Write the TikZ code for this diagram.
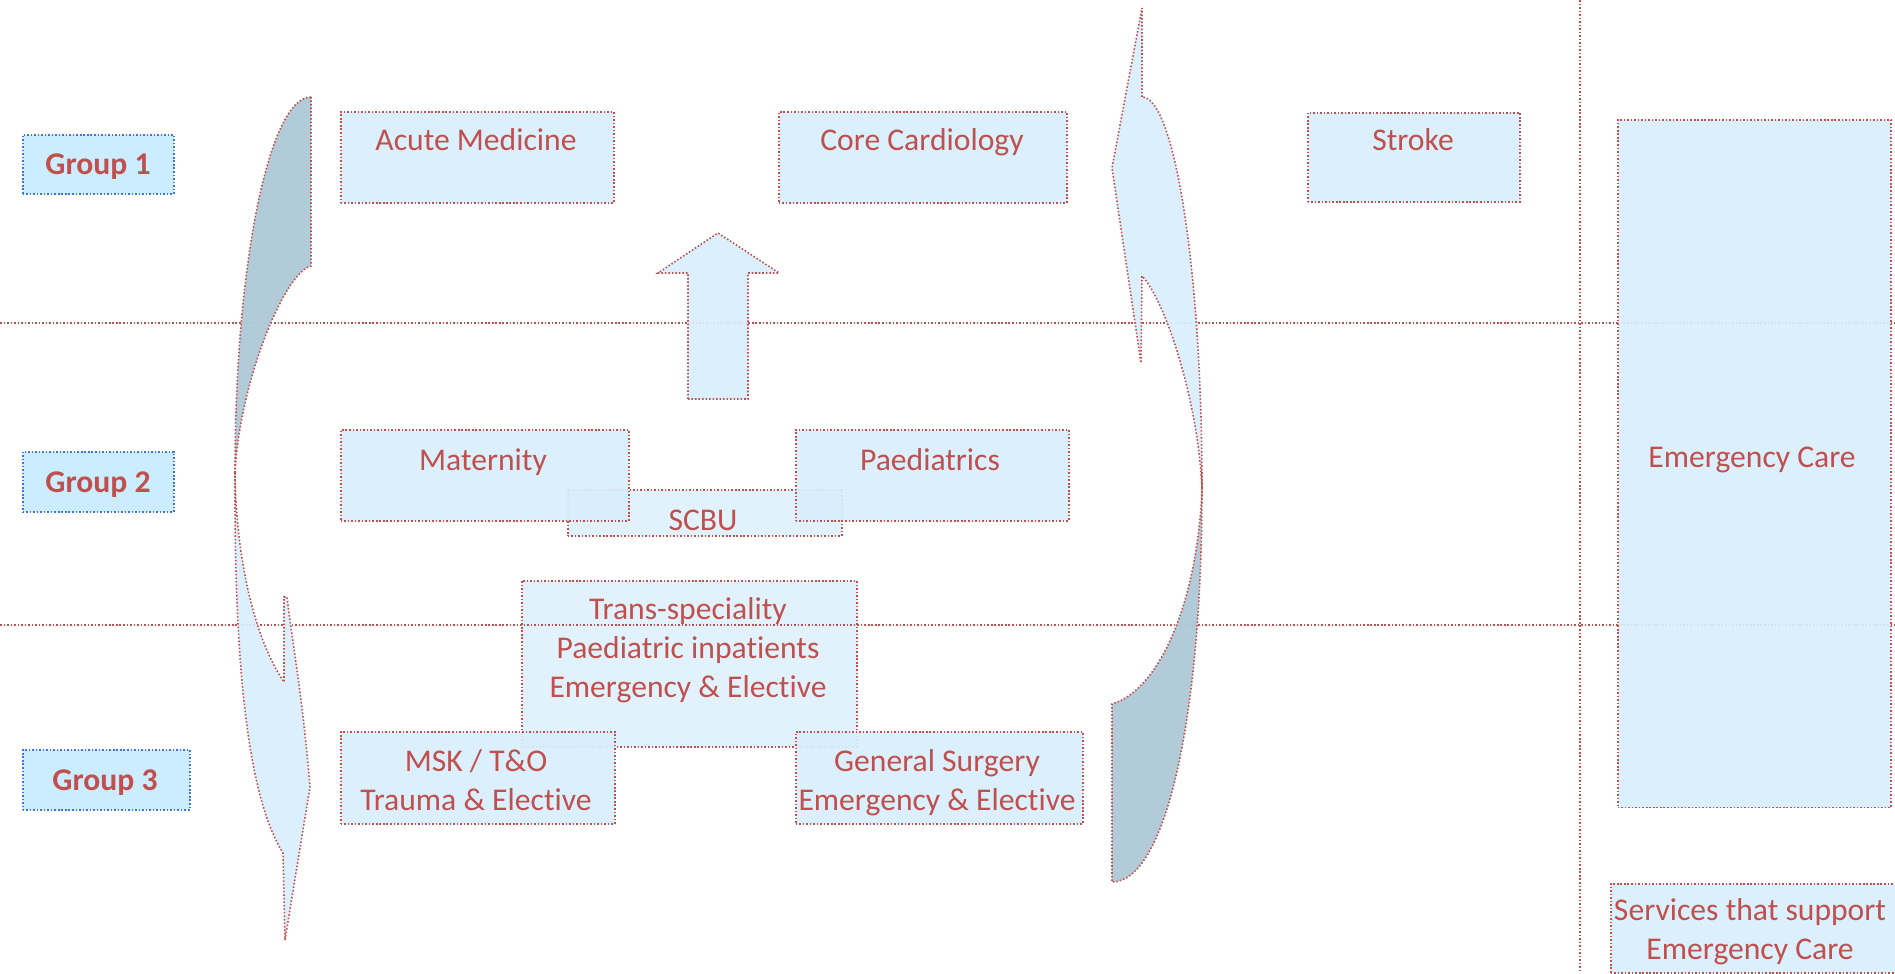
\documentclass[tikz,border=0pt]{standalone}
\usepackage{fontspec}
\setmainfont[Ligatures=NoCommon]{Carlito}
\usetikzlibrary{positioning}
\definecolor{unitred}{RGB}{192,80,77}
\definecolor{unitfill}{RGB}{216,238,252}
\definecolor{groupfill}{RGB}{204,236,255}
\definecolor{groupline}{RGB}{60,115,235}
\definecolor{backfill}{RGB}{176,201,216}

\begin{document}
\begin{tikzpicture}[x=0.02cm, y=-0.02cm,
    dotline/.style={line width=0.9pt, dash pattern=on 0.9pt off 1.1pt},
    unitbox/.style={dotline, draw=unitred, fill=unitfill, fill opacity=0.93, anchor=north west, inner sep=0pt},
    sharedbox/.style={unitbox, fill opacity=0.75},
    groupbox/.style={dotline, draw=groupline, fill=groupfill, anchor=north west, inner sep=0pt},
    lbl/.style={text=unitred, font=\fontsize{18}{22}\selectfont, align=center, anchor=base, inner sep=0pt},
    grouplbl/.style={lbl, font=\fontsize{18}{22}\selectfont\bfseries},
    divider/.style={dotline, draw=unitred},
    frontface/.style={dotline, draw=unitred, fill=unitfill, fill opacity=0.93},
    backface/.style={dotline, draw=unitred, fill=backfill, fill opacity=0.97}]
    \useasboundingbox (0,0) rectangle (1895,973);

    % shared services (under the rest)
    \node [sharedbox, minimum width=6.7cm, minimum height=3.32cm] (trans) at (521,580) {};
    \node [sharedbox, minimum width=5.48cm, minimum height=0.92cm] (scbu) at (567,489) {};

    % group dividers
    \draw [divider] (0,323) -- (1895,323);
    \draw [divider] (0,625) -- (1895,625);
    \draw [divider] (1580,0) -- (1580,973);

    % groups
    \node [groupbox, minimum width=3.02cm, minimum height=1.18cm] (g1) at (22,134) {};
    \node [groupbox, minimum width=3.02cm, minimum height=1.2cm] (g2) at (22,451) {};
    \node [groupbox, minimum width=3.34cm, minimum height=1.2cm] (g3) at (22,749) {};
    \node [grouplbl] (g1-t) at (98,174) {Group 1};
    \node [grouplbl] (g2-t) at (98,492) {Group 2};
    \node [grouplbl] (g3-t) at (105,790) {Group 3};

    % services
    \node [unitbox, minimum width=5.46cm, minimum height=1.82cm] (acute) at (340,111) {};
    \node [unitbox, minimum width=5.76cm, minimum height=1.82cm] (cardio) at (778,111) {};
    \node [unitbox, minimum width=4.24cm, minimum height=1.78cm] (stroke) at (1307,112) {};
    \node [unitbox, minimum width=5.76cm, minimum height=1.82cm] (mat) at (340,429) {};
    \node [unitbox, minimum width=5.46cm, minimum height=1.82cm] (paed) at (795,429) {};
    \node [unitbox, minimum width=5.48cm, minimum height=1.84cm] (msk) at (340,731) {};
    \node [unitbox, minimum width=5.74cm, minimum height=1.84cm] (gensurg) at (795,731) {};
    \node [unitbox, minimum width=5.46cm, minimum height=13.76cm] (emerg) at (1617,119) {};
    \node [unitbox, minimum width=5.9cm, minimum height=1.78cm] (support) at (1610,883) {};

    \node [lbl] (acute-t) at (476,151) {Acute Medicine};
    \node [lbl] (cardio-t) at (922,151) {Core Cardiology};
    \node [lbl] (stroke-t) at (1413,151) {Stroke};
    \node [lbl] (mat-t) at (483,470) {Maternity};
    \node [lbl] (paed-t) at (930,470) {Paediatrics};
    \node [lbl] (scbu-t) at (703,530) {SCBU};
    \node [lbl] (trans-t) at (688,697) {Trans-speciality\\Paediatric inpatients\\Emergency \& Elective};
    \node [lbl] (msk-t) at (476,810) {MSK / T\&O\\Trauma \& Elective};
    \node [lbl] (gensurg-t) at (937,810) {General Surgery\\Emergency \& Elective};
    \node [lbl] (emerg-t) at (1752,467) {Emergency Care};
    \node [lbl] (support-t) at (1750,959) {Services that support\\Emergency Care};

    % curved arrow, left side
    \draw [backface] (311,97) .. controls (269,97) and (235,265) .. (235,472)
        .. controls (240,380) and (285,272) .. (311,266) -- cycle;
    \draw [frontface] (235,472) .. controls (234,680) and (250,800) .. (283,853)
        -- (285,940) -- (310,787) .. controls (303,700) and (292,640) .. (287,597)
        -- (284,597) -- (284,682) .. controls (255,640) and (236,560) .. (235,472) -- cycle;

    % curved arrow, right side
    \draw [frontface] (1142,97) -- (1142,8) -- (1112,168) -- (1141,363) -- (1142,276)
        .. controls (1165,300) and (1198,400) .. (1202,488)
        .. controls (1202,275) and (1175,97) .. (1142,97) -- cycle;
    \draw [backface] (1202,488) .. controls (1202,720) and (1165,882) .. (1112,882)
        -- (1112,704) .. controls (1160,690) and (1198,600) .. (1202,488) -- cycle;

    % block arrow
    \draw [frontface] (688,399) -- (688,273) -- (658,273) -- (718,233) -- (779,273)
        -- (748,273) -- (748,399) -- cycle;
\end{tikzpicture}
\end{document}
